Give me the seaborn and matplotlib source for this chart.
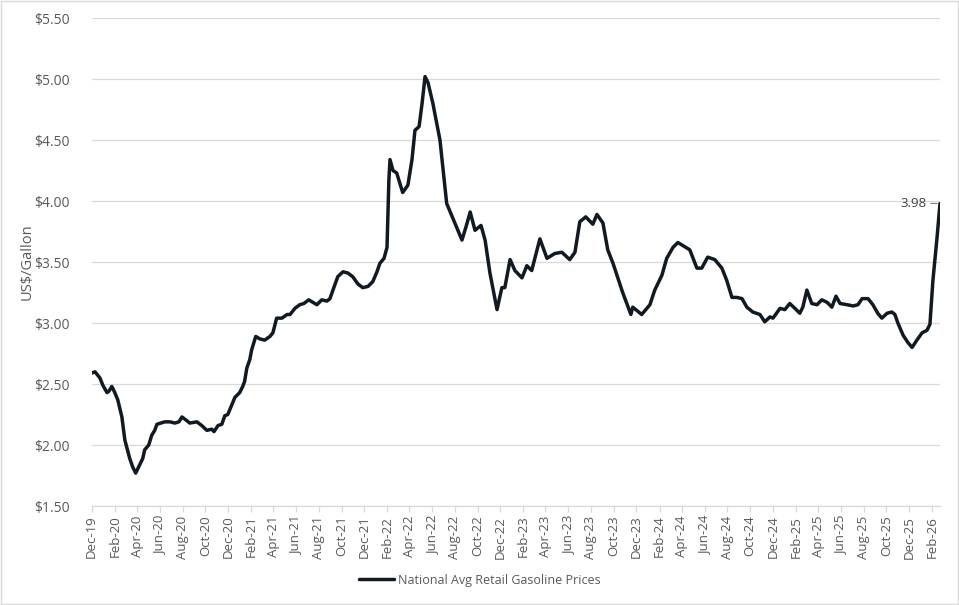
import pandas as pd
import matplotlib
matplotlib.use("Agg")
import matplotlib.pyplot as plt
import matplotlib.dates as mdates
from matplotlib.ticker import FuncFormatter, MultipleLocator
from matplotlib.patches import Rectangle
import seaborn as sns

# ==============================================================================
# DATA
# ==============================================================================
dates = [
    "2019-12-01", "2019-12-10", "2019-12-23", "2019-12-31", "2020-01-11", "2020-01-16",
    "2020-01-24", "2020-02-01", "2020-02-09", "2020-02-20", "2020-02-28", "2020-03-12",
    "2020-03-20", "2020-03-28", "2020-04-08", "2020-04-16", "2020-04-21", "2020-05-02",
    "2020-05-10", "2020-05-18", "2020-05-24", "2020-06-14", "2020-06-28", "2020-07-11",
    "2020-07-22", "2020-07-30", "2020-08-12", "2020-08-20", "2020-09-08", "2020-09-21",
    "2020-10-05", "2020-10-18", "2020-10-24", "2020-11-04", "2020-11-14", "2020-11-22",
    "2020-11-30", "2020-12-11", "2020-12-19", "2021-01-01", "2021-01-09", "2021-01-14",
    "2021-01-20", "2021-01-28", "2021-02-02", "2021-02-13", "2021-02-24", "2021-03-09",
    "2021-03-23", "2021-03-31", "2021-04-10", "2021-04-24", "2021-05-08", "2021-05-16",
    "2021-05-29", "2021-06-11", "2021-06-22", "2021-07-05", "2021-07-16", "2021-07-27",
    "2021-08-09", "2021-08-23", "2021-08-31", "2021-09-08", "2021-09-21", "2021-10-05",
    "2021-10-18", "2021-10-31", "2021-11-14", "2021-11-27", "2021-12-11", "2021-12-24",
    "2022-01-04", "2022-01-12", "2022-01-23", "2022-01-31", "2022-02-02", "2022-02-05",
    "2022-02-08", "2022-02-16", "2022-02-26", "2022-03-14", "2022-03-28", "2022-04-08",
    "2022-04-16", "2022-04-27", "2022-05-05", "2022-05-13", "2022-05-21", "2022-06-03",
    "2022-06-22", "2022-07-10", "2022-07-29", "2022-08-20", "2022-08-31", "2022-09-11",
    "2022-09-24", "2022-10-10", "2022-10-21", "2022-11-03", "2022-11-22", "2022-12-05",
    "2022-12-13", "2022-12-27", "2023-01-09", "2023-01-28", "2023-02-10", "2023-02-23",
    "2023-03-17", "2023-04-05", "2023-04-26", "2023-05-15", "2023-06-05", "2023-06-19",
    "2023-07-02", "2023-07-18", "2023-08-06", "2023-08-17", "2023-09-02", "2023-09-15",
    "2023-09-29", "2023-10-25", "2023-11-16", "2023-11-21", "2023-12-15", "2024-01-06",
    "2024-01-19", "2024-02-07", "2024-02-20", "2024-03-08", "2024-03-21", "2024-04-22",
    "2024-05-11", "2024-05-24", "2024-06-09", "2024-06-28", "2024-07-17", "2024-07-30",
    "2024-08-13", "2024-08-26", "2024-09-09", "2024-09-22", "2024-10-08", "2024-10-27",
    "2024-11-09", "2024-11-23", "2024-12-01", "2024-12-20", "2025-01-02", "2025-01-15",
    "2025-01-29", "2025-02-11", "2025-02-19", "2025-03-02", "2025-03-15", "2025-03-29",
    "2025-04-11", "2025-04-25", "2025-05-08", "2025-05-19", "2025-05-30", "2025-06-18",
    "2025-07-04", "2025-07-17", "2025-07-28", "2025-08-13", "2025-08-26", "2025-09-08",
    "2025-09-19", "2025-10-03", "2025-10-16", "2025-10-24", "2025-11-01", "2025-11-15",
    "2025-11-28", "2025-12-09", "2025-12-22", "2026-01-05", "2026-01-18", "2026-01-26",
    "2026-02-03", "2026-02-14", "2026-02-22",
]
prices = [
    2.59, 2.60, 2.55, 2.49, 2.43, 2.44,
    2.48, 2.43, 2.37, 2.23, 2.04, 1.89,
    1.82, 1.77, 1.84, 1.89, 1.96, 2.00,
    2.08, 2.12, 2.17, 2.19, 2.19, 2.18,
    2.19, 2.23, 2.20, 2.18, 2.19, 2.16,
    2.12, 2.13, 2.11, 2.16, 2.17, 2.24,
    2.25, 2.33, 2.39, 2.43, 2.48, 2.52,
    2.63, 2.70, 2.78, 2.89, 2.87, 2.86,
    2.89, 2.92, 3.04, 3.04, 3.07, 3.07,
    3.12, 3.15, 3.16, 3.19, 3.17, 3.15,
    3.19, 3.18, 3.20, 3.27, 3.38, 3.42,
    3.41, 3.38, 3.32, 3.29, 3.30, 3.34,
    3.42, 3.49, 3.53, 3.62, 3.84, 4.17,
    4.34, 4.25, 4.23, 4.07, 4.13, 4.34,
    4.58, 4.61, 4.80, 5.02, 4.97, 4.80,
    4.50, 3.98, 3.84, 3.68, 3.79, 3.91,
    3.76, 3.80, 3.68, 3.41, 3.11, 3.29,
    3.29, 3.52, 3.43, 3.37, 3.47, 3.43,
    3.69, 3.53, 3.57, 3.58, 3.52, 3.58,
    3.83, 3.87, 3.81, 3.89, 3.82, 3.60,
    3.49, 3.25, 3.07, 3.13, 3.07, 3.15,
    3.27, 3.39, 3.53, 3.62, 3.66, 3.60,
    3.45, 3.45, 3.54, 3.52, 3.45, 3.35,
    3.21, 3.21, 3.20, 3.13, 3.09, 3.07,
    3.01, 3.05, 3.04, 3.12, 3.11, 3.16,
    3.12, 3.08, 3.13, 3.27, 3.16, 3.15,
    3.19, 3.17, 3.13, 3.22, 3.16, 3.15,
    3.14, 3.15, 3.20, 3.20, 3.15, 3.08,
    3.04, 3.08, 3.09, 3.07, 3.00, 2.90,
    2.84, 2.80, 2.86, 2.92, 2.94, 2.99,
    3.35, 3.70, 3.98,
]
SERIES_NAME = "National Avg Retail Gasoline Prices"
Y_LABEL = "US$/Gallon"

LINE_COLOR = "#111a22"
GRID_COLOR = "#d9d9d9"
TEXT_COLOR = "#595959"

df = pd.DataFrame({"date": pd.to_datetime(dates), "price": prices})

# ==============================================================================
# PLOT
# ==============================================================================
sns.set_theme(style="white")
plt.rcParams["font.family"] = ["Open Sans", "DejaVu Sans"]

fig = plt.figure(figsize=(9.59, 6.05), dpi=100)
ax = fig.add_axes([0.0956, 0.1636, 0.8846, 0.8066])

sns.lineplot(data=df, x="date", y="price", ax=ax, color=LINE_COLOR,
             linewidth=2.5, label=SERIES_NAME, legend=False)

ax.set_ylim(1.5, 5.5)
ax.yaxis.set_major_locator(MultipleLocator(0.5))
ax.yaxis.set_major_formatter(FuncFormatter(lambda v, p: f"${v:.2f}"))
ax.set_xlim(pd.Timestamp("2019-12-01"), pd.Timestamp("2026-02-22"))
ax.xaxis.set_major_locator(mdates.MonthLocator(bymonth=[2, 4, 6, 8, 10, 12]))
ax.xaxis.set_major_formatter(mdates.DateFormatter("%b-%y"))

ax.grid(axis="y", color=GRID_COLOR, linewidth=0.9)
ax.set_axisbelow(True)
for side in ["left", "right", "top"]:
    ax.spines[side].set_visible(False)
ax.spines["bottom"].set_color(GRID_COLOR)
ax.spines["bottom"].set_linewidth(0.9)

ax.tick_params(axis="x", which="major", bottom=True, length=4, width=0.9,
               color=GRID_COLOR, labelcolor=TEXT_COLOR, labelsize=9.5,
               labelrotation=90, pad=3)
ax.tick_params(axis="y", left=False, labelcolor=TEXT_COLOR, labelsize=10, pad=10)
ax.set_xlabel("")
ax.set_ylabel(Y_LABEL, color=TEXT_COLOR, fontsize=10.5)
ax.yaxis.set_label_coords(-0.067, 0.5)

# last value label
last = df.iloc[-1]
ax.annotate(f"{last['price']:.2f}", xy=(last["date"], last["price"]),
            xytext=(-10, 0), textcoords="offset points", ha="right", va="center",
            color="#404040", fontsize=9.5,
            arrowprops=dict(arrowstyle="-", color="#7f7f7f", lw=0.8,
                            shrinkA=1, shrinkB=2))

handles, labels = ax.get_legend_handles_labels()
fig.legend(handles, labels, loc="center", bbox_to_anchor=(0.5, 0.041),
           frameon=False, fontsize=9, handlelength=2.8, handletextpad=0.3,
           labelcolor=TEXT_COLOR)

# chart border
fig.patches.append(Rectangle((0.0008, 0.0012), 0.9984, 0.9976,
                             transform=fig.transFigure, fill=False,
                             edgecolor=GRID_COLOR, linewidth=1.0))

fig.savefig("out.png", dpi=100)
plt.close(fig)
